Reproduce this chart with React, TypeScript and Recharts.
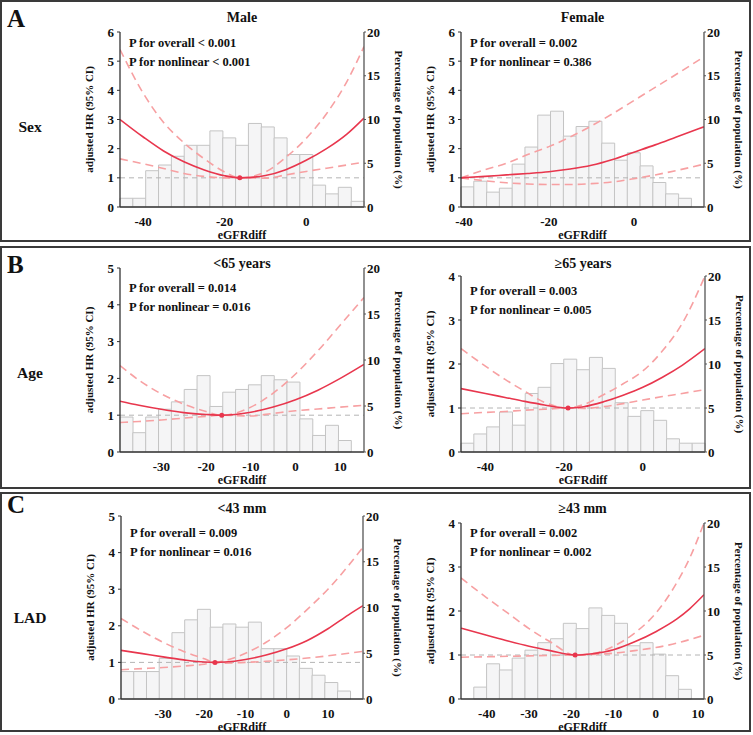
import React from "react";
import {
  ComposedChart,
  Bar,
  Line,
  XAxis,
  YAxis,
  ReferenceLine,
  ReferenceDot,
  Label,
} from "recharts";

const FONT = '"Liberation Serif", "Times New Roman", serif';
const RED = "#e8364d";
const PINK = "#f7a0a2";
const INK = "#111";

// ---- data ----
const pctTicks = [0, 5, 10, 15, 20];
const hrTicks6 = [0, 1, 2, 3, 4, 5, 6];
const hrTicks5 = [0, 1, 2, 3, 4, 5];
const hrTicks4 = [0, 1, 2, 3, 4];

// Sex: male
const maleRange = [-45.7, 14.2];
const maleBins = [1.0, 1.0, 4.15, 4.8, 5.8, 7.05, 7.05, 8.7, 7.9, 7.05, 9.55, 9.15, 7.9, 6.0, 6.0, 2.5, 1.5, 2.25, 0.65];
const maleX = [-45.7, -40, -35, -30, -25, -20, -16.3, -10, -5, 0, 5, 10, 14.2];
const maleHR = [3.0, 2.4, 1.92, 1.55, 1.27, 1.07, 1.0, 1.08, 1.28, 1.6, 2.0, 2.5, 3.05];
const maleUpper = [5.4, 3.9, 2.9, 2.2, 1.65, 1.2, 1.0, 1.2, 1.7, 2.35, 3.2, 4.3, 5.5];
const maleLower = [1.65, 1.48, 1.32, 1.15, 1.05, 1.0, 1.0, 0.99, 1.1, 1.22, 1.33, 1.44, 1.54];
const maleTicks = [-40, -20, 0];

// Sex: female
const femaleRange = [-40.7, 16.5];
const femaleBins = [2.3, 2.95, 1.7, 2.15, 4.9, 6.85, 10.5, 10.95, 8.1, 9.2, 9.8, 7.3, 5.35, 6.2, 4.7, 2.8, 1.5, 1.0, 0];
const femaleX = [-40.7, -35, -30, -25, -20, -15, -10, -5, 0, 5, 10, 16.5];
const femaleHR = [1.0, 1.05, 1.1, 1.15, 1.21, 1.3, 1.43, 1.63, 1.88, 2.13, 2.4, 2.75];
const femaleUpper = [1.0, 1.28, 1.5, 1.8, 2.07, 2.4, 2.78, 3.2, 3.65, 4.1, 4.55, 5.15];
const femaleLower = [1.0, 0.9, 0.83, 0.79, 0.77, 0.77, 0.8, 0.86, 0.97, 1.1, 1.25, 1.47];
const femaleTicks = [-40, -20, 0];

// Age < 65
const youngRange = [-39.25, 15.3];
const youngBins = [3.8, 2.1, 3.8, 4.65, 5.45, 6.8, 8.3, 4.95, 6.5, 6.8, 7.3, 8.3, 7.85, 7.6, 3.6, 1.8, 2.9, 1.25, 0];
const youngX = [-39.25, -35, -30, -25, -20, -16.5, -10, -5, 0, 5, 10, 15.3];
const youngHR = [1.38, 1.27, 1.16, 1.07, 1.02, 1.0, 1.08, 1.22, 1.42, 1.68, 2.0, 2.38];
const youngUpper = [2.35, 1.95, 1.58, 1.3, 1.1, 1.0, 1.22, 1.6, 2.12, 2.75, 3.45, 4.2];
const youngLower = [0.8, 0.83, 0.87, 0.92, 0.97, 1.0, 0.98, 1.05, 1.12, 1.17, 1.22, 1.27];
const youngTicks = [-30, -20, -10, 0, 10];

// Age >= 65
const oldRange = [-46.2, 15.8];
const oldBins = [1.0, 2.05, 2.85, 4.55, 3.05, 6.65, 7.35, 10.05, 10.55, 9.35, 10.75, 9.5, 5.6, 4.05, 4.7, 3.6, 1.5, 1.0, 1.0];
const oldX = [-46.2, -40, -35, -30, -25, -19, -15, -10, -5, 0, 5, 10, 15.8];
const oldHR = [1.44, 1.33, 1.24, 1.15, 1.07, 1.0, 1.03, 1.14, 1.29, 1.47, 1.7, 1.97, 2.35];
const oldUpper = [2.35, 1.95, 1.65, 1.38, 1.13, 1.0, 1.08, 1.3, 1.55, 1.84, 2.3, 2.92, 4.0];
const oldLower = [0.87, 0.9, 0.92, 0.95, 0.97, 1.0, 0.99, 1.03, 1.1, 1.18, 1.26, 1.33, 1.42];
const oldTicks = [-40, -20, 0];

// LAD < 43 mm
const smallRange = [-40.2, 18.5];
const smallBins = [3.0, 3.0, 3.0, 4.45, 7.25, 8.65, 9.8, 7.85, 8.2, 7.85, 8.4, 5.5, 5.5, 4.7, 3.35, 2.6, 1.8, 0.87, 0];
const smallX = [-40.2, -35, -30, -25, -20, -17.4, -15, -10, -5, 0, 5, 10, 15, 18.5];
const smallHR = [1.33, 1.24, 1.15, 1.07, 1.01, 1.0, 1.01, 1.08, 1.2, 1.37, 1.6, 1.92, 2.3, 2.55];
const smallUpper = [2.2, 1.85, 1.55, 1.3, 1.1, 1.0, 1.05, 1.25, 1.55, 1.95, 2.45, 3.0, 3.65, 4.15];
const smallLower = [0.8, 0.83, 0.86, 0.9, 0.95, 1.0, 0.98, 1.0, 1.03, 1.07, 1.12, 1.18, 1.25, 1.3];
const smallTicks = [-30, -20, -10, 0, 10];

// LAD >= 43 mm
const largeRange = [-46.1, 11.4];
const largeBins = [0, 1.35, 4.0, 3.3, 4.65, 5.55, 6.4, 6.85, 8.6, 8.0, 10.35, 9.5, 8.6, 6.05, 6.4, 5.1, 2.65, 1.1, 0];
const largeX = [-46.1, -40, -35, -30, -25, -19.1, -15, -10, -5, 0, 5, 8, 11.4];
const largeHR = [1.61, 1.45, 1.32, 1.2, 1.1, 1.0, 1.03, 1.12, 1.3, 1.53, 1.82, 2.05, 2.37];
const largeUpper = [2.75, 2.3, 1.95, 1.6, 1.3, 1.0, 1.03, 1.2, 1.5, 1.95, 2.65, 3.2, 4.0];
const largeLower = [0.95, 0.96, 0.97, 0.98, 0.99, 1.0, 1.01, 1.04, 1.1, 1.17, 1.27, 1.35, 1.45];
const largeTicks = [-40, -30, -20, -10, 0, 10];

type PanelProps = {
  plot: number[]; // left, top, right, bottom in page px
  range: number[];
  bins: number[];
  xs: number[];
  hr: number[];
  upper: number[];
  lower: number[];
  xTicks: number[];
  hrTicks: number[];
  refX?: number;
  title: string;
  titleY: number;
  p1: string;
  p2: string;
  pY: number;
};

const tickStyle = { fill: INK, fontSize: 13, fontWeight: 700, fontFamily: FONT };
const axisTitle = { fill: INK, fontSize: 11, fontWeight: 700, fontFamily: FONT, textAnchor: "middle" as const };
const axisLine = { stroke: "#333", strokeWidth: 1.3 };

function Panel(p: PanelProps) {
  const [pl, pt, pr, pb] = p.plot;
  const leftW = 36;
  const rightW = 45;
  const topM = 8;
  const xH = 34;
  const w = leftW + (pr - pl) + rightW;
  const h = topM + (pb - pt) + xH;

  const bins = p.bins.map((v, i) => ({ bin: i, pct: v }));
  const curve = p.xs.map((x, i) => ({
    x,
    hr: p.hr[i],
    upper: p.upper[i],
    lower: p.lower[i],
  }));
  const hrMax = p.hrTicks[p.hrTicks.length - 1];

  return (
    <>
      <div style={{ position: "absolute", left: pl - leftW, top: pt - topM }}>
        <ComposedChart
          width={w}
          height={h}
          data={bins}
          barCategoryGap={0}
          barGap={0}
          margin={{ top: topM, right: 0, bottom: 0, left: 0 }}
        >
          <XAxis
            xAxisId="x"
            dataKey="x"
            type="number"
            domain={p.range}
            ticks={p.xTicks}
            allowDataOverflow
            interval={0}
            height={xH}
            tickLine={false}
            tickSize={0}
            tickMargin={10}
            axisLine={axisLine}
            tick={tickStyle}
          >
            <Label
              value="eGFRdiff"
              position="insideBottom"
              offset={2}
              style={{ ...axisTitle, fontSize: 12 }}
            />
          </XAxis>
          <XAxis xAxisId="bin" dataKey="bin" type="category" height={0} hide />
          <YAxis
            yAxisId="hr"
            orientation="left"
            width={leftW}
            domain={[0, hrMax]}
            ticks={p.hrTicks}
            allowDataOverflow
            interval={0}
            tickSize={3}
            tickMargin={3}
            axisLine={axisLine}
            tickLine={{ stroke: "#333" }}
            tick={tickStyle}
          >
            <Label
              value="adjusted HR (95% CI)"
              angle={-90}
              position="insideLeft"
              offset={5}
              style={axisTitle}
            />
          </YAxis>
          <YAxis
            yAxisId="pct"
            orientation="right"
            width={rightW}
            domain={[0, 20]}
            ticks={pctTicks}
            interval={0}
            tickSize={2}
            tickMargin={1}
            axisLine={{ stroke: "#555", strokeWidth: 1.3 }}
            tickLine={{ stroke: "#555" }}
            tick={tickStyle}
          >
            <Label
              value="Percentage of population (%)"
              angle={90}
              position="insideRight"
              offset={10}
              style={axisTitle}
            />
          </YAxis>
          <Bar
            xAxisId="bin"
            yAxisId="pct"
            dataKey="pct"
            fill="#f5f5f6"
            stroke="#c4c4c4"
            strokeWidth={1}
            isAnimationActive={false}
          />
          <ReferenceLine
            xAxisId="x"
            yAxisId="hr"
            y={1}
            stroke="#b4b4b4"
            strokeDasharray="5 4"
            strokeWidth={1}
          />
          <Line
            xAxisId="x"
            yAxisId="hr"
            data={curve}
            dataKey="lower"
            type="monotone"
            stroke={PINK}
            strokeWidth={1.6}
            strokeDasharray="8 5"
            dot={false}
            activeDot={false}
            isAnimationActive={false}
          />
          <Line
            xAxisId="x"
            yAxisId="hr"
            data={curve}
            dataKey="upper"
            type="monotone"
            stroke={PINK}
            strokeWidth={1.6}
            strokeDasharray="8 5"
            dot={false}
            activeDot={false}
            isAnimationActive={false}
          />
          <Line
            xAxisId="x"
            yAxisId="hr"
            data={curve}
            dataKey="hr"
            type="monotone"
            stroke={RED}
            strokeWidth={1.6}
            dot={false}
            activeDot={false}
            isAnimationActive={false}
          />
          {p.refX !== undefined && (
            <ReferenceDot
              xAxisId="x"
              yAxisId="hr"
              x={p.refX}
              y={1}
              r={2.5}
              fill={RED}
              stroke="none"
            />
          )}
        </ComposedChart>
      </div>
      <div style={{ ...centered, left: (pl + pr) / 2, top: p.titleY, fontSize: 14 }}>
        {p.title}
      </div>
      <div style={{ ...leftText, left: pl + 9, top: p.pY }}>{p.p1}</div>
      <div style={{ ...leftText, left: pl + 9, top: p.pY + 18.5 }}>{p.p2}</div>
    </>
  );
}

const centered: React.CSSProperties = {
  position: "absolute",
  transform: "translate(-50%, -50%)",
  fontWeight: 700,
  lineHeight: 1,
  whiteSpace: "nowrap",
  color: INK,
};

const leftText: React.CSSProperties = {
  position: "absolute",
  transform: "translateY(-50%)",
  fontWeight: 700,
  fontSize: 12.5,
  lineHeight: 1,
  whiteSpace: "nowrap",
  color: INK,
};

const boxStyle: React.CSSProperties = {
  position: "absolute",
  left: 0,
  width: 751,
  border: "2px solid #3a3a3a",
  boxSizing: "border-box",
};

function RowLabel({ letter, name, letterY, nameY }: { letter: string; name: string; letterY: number; nameY: number }) {
  return (
    <>
      <div style={{ ...leftText, left: 7, top: letterY, fontSize: 25 }}>{letter}</div>
      <div style={{ ...centered, left: 30, top: nameY, fontSize: 15.5 }}>{name}</div>
    </>
  );
}

export default function App() {
  return (
    <div
      style={{
        position: "absolute",
        left: 0,
        top: 0,
        width: 753,
        height: 735,
        background: "#fff",
        fontFamily: FONT,
      }}
    >
      <div style={{ ...boxStyle, top: 0, height: 242 }} />
      <div style={{ ...boxStyle, top: 246, height: 243 }} />
      <div style={{ ...boxStyle, top: 492, height: 240 }} />

      <RowLabel letter="A" name="Sex" letterY={18} nameY={127} />
      <RowLabel letter="B" name="Age" letterY={264} nameY={373} />
      <RowLabel letter="C" name="LAD" letterY={504} nameY={618} />

      <Panel
        plot={[120, 32, 364, 207]}
        range={maleRange}
        bins={maleBins}
        xs={maleX}
        hr={maleHR}
        upper={maleUpper}
        lower={maleLower}
        xTicks={maleTicks}
        hrTicks={hrTicks6}
        refX={-16.3}
        title="Male"
        titleY={18}
        p1="P for overall < 0.001"
        p2="P for nonlinear < 0.001"
        pY={43}
      />
      <Panel
        plot={[461, 32, 704, 207]}
        range={femaleRange}
        bins={femaleBins}
        xs={femaleX}
        hr={femaleHR}
        upper={femaleUpper}
        lower={femaleLower}
        xTicks={femaleTicks}
        hrTicks={hrTicks6}
        title="Female"
        titleY={18}
        p1="P for overall = 0.002"
        p2="P for nonlinear = 0.386"
        pY={43}
      />
      <Panel
        plot={[120, 268, 364, 452]}
        range={youngRange}
        bins={youngBins}
        xs={youngX}
        hr={youngHR}
        upper={youngUpper}
        lower={youngLower}
        xTicks={youngTicks}
        hrTicks={hrTicks5}
        refX={-16.5}
        title="<65 years"
        titleY={264}
        p1="P for overall = 0.014"
        p2="P for nonlinear = 0.016"
        pY={288}
      />
      <Panel
        plot={[461, 276, 705, 452]}
        range={oldRange}
        bins={oldBins}
        xs={oldX}
        hr={oldHR}
        upper={oldUpper}
        lower={oldLower}
        xTicks={oldTicks}
        hrTicks={hrTicks4}
        refX={-19}
        title="≥65 years"
        titleY={264}
        p1="P for overall = 0.003"
        p2="P for nonlinear = 0.005"
        pY={291}
      />
      <Panel
        plot={[121, 516, 363, 699]}
        range={smallRange}
        bins={smallBins}
        xs={smallX}
        hr={smallHR}
        upper={smallUpper}
        lower={smallLower}
        xTicks={smallTicks}
        hrTicks={hrTicks5}
        refX={-17.4}
        title="<43 mm"
        titleY={509}
        p1="P for overall = 0.009"
        p2="P for nonlinear = 0.016"
        pY={533}
      />
      <Panel
        plot={[461, 523, 704, 699]}
        range={largeRange}
        bins={largeBins}
        xs={largeX}
        hr={largeHR}
        upper={largeUpper}
        lower={largeLower}
        xTicks={largeTicks}
        hrTicks={hrTicks4}
        refX={-19.1}
        title="≥43 mm"
        titleY={509}
        p1="P for overall = 0.002"
        p2="P for nonlinear = 0.002"
        pY={533}
      />
    </div>
  );
}
